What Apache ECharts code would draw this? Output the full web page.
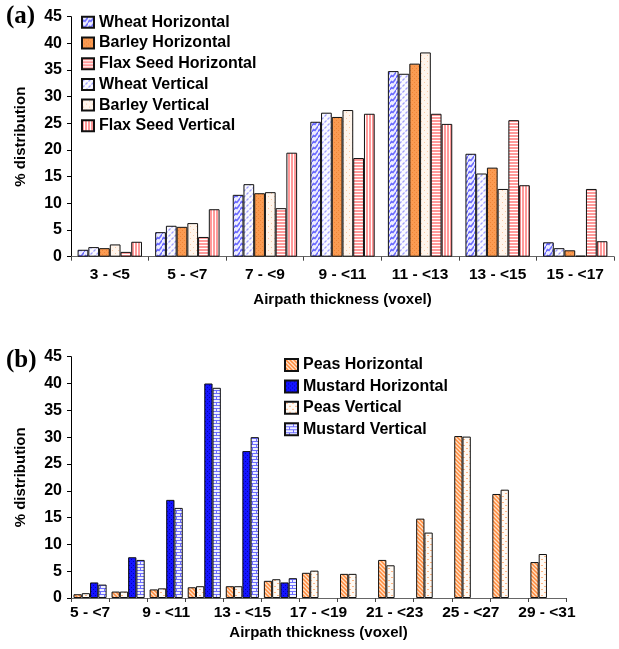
<!DOCTYPE html>
<html>
<head>
<meta charset="utf-8">
<script src="https://cdn.jsdelivr.net/npm/echarts@6/dist/echarts.min.js"></script>
<style>
  html, body { margin: 0; padding: 0; background: #fff; }
  #chart { width: 619px; height: 649px; }
</style>
</head>
<body>
<div id="chart"></div>
<script>
// Panel (a): cereal and flax seed airpath thickness distributions
const categoriesA = ['3 - <5', '5 - <7', '7 - <9', '9 - <11', '11 - <13', '13 - <15', '15 - <17'];
const wheatHorizontal = [1.3, 4.6, 11.6, 25.3, 34.8, 19.3, 2.7];
const wheatVertical   = [1.8, 5.8, 13.6, 27.0, 34.3, 15.6, 1.6];
const barleyHorizontal = [1.6, 5.6, 11.9, 26.2, 36.2, 16.7, 1.2];
const barleyVertical   = [2.3, 6.3, 12.1, 27.5, 38.3, 12.7, 0.2];
const flaxHorizontal = [0.9, 3.7, 9.1, 18.5, 26.8, 25.6, 12.7];
const flaxVertical   = [2.8, 8.9, 19.5, 26.8, 24.9, 13.4, 2.9];

// Panel (b): peas and mustard airpath thickness distributions
const categoriesB = ['5 - <7', '7 - <9', '9 - <11', '11 - <13', '13 - <15', '15 - <17', '17 - <19',
                     '19 - <21', '21 - <23', '23 - <25', '25 - <27', '27 - <29', '29 - <31'];
const peasHorizontal = [0.7, 1.2, 1.6, 2.0, 2.2, 3.2, 4.7, 4.5, 7.1, 14.8, 30.2, 19.4, 6.7];
const peasVertical   = [0.9, 1.2, 1.8, 2.2, 2.2, 3.5, 5.1, 4.5, 6.1, 12.2, 30.1, 20.2, 8.2];
const mustardHorizontal = [2.9, 7.6, 18.3, 40.0, 27.4, 2.9, null, null, null, null, null, null, null];
const mustardVertical   = [2.5, 7.1, 16.8, 39.2, 30.0, 3.7, null, null, null, null, null, null, null];

// Shared y scale (% distribution)
const yMin = 0, yMax = 45, yStep = 5;

const FONT = "'Liberation Sans', Arial, sans-serif";

// Small repeating fills for the hatched bars
function tile(w, h, bg, draw) {
  const c = document.createElement('canvas');
  c.width = w; c.height = h;
  const g = c.getContext('2d');
  g.fillStyle = bg;
  g.fillRect(0, 0, w, h);
  if (draw) draw(g);
  return { image: c, repeat: 'repeat' };
}
function dots(g, color, pts) {
  g.fillStyle = color;
  pts.forEach(p => g.fillRect(p[0], p[1], 1, 1));
}

const fills = {
  wheatH: tile(6, 6, '#eeeeff', g => {
    g.strokeStyle = '#6c6cff'; g.lineWidth = 1.6;
    g.beginPath();
    g.moveTo(-1, 7); g.lineTo(1.5, 3.5); g.lineTo(3, 4.5); g.lineTo(7, -1);
    g.moveTo(-4, 4); g.lineTo(0, -1);
    g.moveTo(5, 8); g.lineTo(8, 4);
    g.stroke();
  }),
  wheatV: tile(6, 6, '#fafaff', g => {
    g.strokeStyle = '#9d9dff'; g.lineWidth = 1.2;
    g.beginPath();
    g.moveTo(0.5, 2.5); g.lineTo(2.5, 0.5);
    g.moveTo(3.5, 5.5); g.lineTo(5.5, 3.5);
    g.stroke();
  }),
  barleyH: tile(4, 4, '#fb9b52', g => dots(g, '#ee8436', [[0, 0], [2, 2]])),
  barleyV: tile(6, 6, '#fff5ec', g => dots(g, '#fbc9a4', [[1, 1], [4, 4]])),
  flaxH: tile(3, 3, '#ffffff', g => { g.fillStyle = '#ff9a9a'; g.fillRect(0, 0, 3, 2); }),
  flaxV: tile(3, 3, '#ffffff', g => { g.fillStyle = '#ff9a9a'; g.fillRect(0, 0, 2, 3); }),
  peasH: tile(4, 4, '#ffe2c8', g => {
    g.strokeStyle = '#ff8a3c'; g.lineWidth = 1.5;
    g.beginPath();
    g.moveTo(-1, -1); g.lineTo(5, 5);
    g.moveTo(-3, 1); g.lineTo(1, 5);
    g.moveTo(3, -1); g.lineTo(5, 1);
    g.stroke();
  }),
  peasV: tile(6, 6, '#fffaf4', g => dots(g, '#ffb684', [[1, 1], [2, 1], [4, 4], [5, 4]])),
  mustardH: tile(4, 4, '#1414ff', g => dots(g, '#0000b8', [[1, 1], [3, 3]])),
  mustardV: tile(8, 6, '#eef0ff', g => {
    g.fillStyle = '#6e6eff';
    g.fillRect(0, 0, 8, 1);
    g.fillRect(0, 3, 8, 1);
    g.fillRect(0, 0, 1, 3);
    g.fillRect(4, 3, 1, 3);
  })
};

function barSeries(name, data, fill, axisIndex) {
  return {
    type: 'bar',
    name: name,
    data: data,
    xAxisIndex: axisIndex,
    yAxisIndex: axisIndex,
    barGap: '0%',
    barCategoryGap: axisIndex === 0 ? '17%' : '13%',
    itemStyle: { color: fill, borderColor: '#111', borderWidth: 1 },
    emphasis: { disabled: true },
    animation: false
  };
}

const labelStyle = { fontFamily: FONT, fontWeight: 'bold', color: '#000' };

function valueAxis(gridIndex) {
  return {
    type: 'value',
    gridIndex: gridIndex,
    min: yMin, max: yMax, interval: yStep,
    name: '% distribution',
    nameLocation: 'middle',
    nameGap: 43,
    nameRotate: 90,
    nameTextStyle: Object.assign({ fontSize: 15 }, labelStyle),
    axisLine: { show: true, lineStyle: { color: '#000', width: 1 } },
    axisTick: { show: true, inside: false, length: 4, lineStyle: { color: '#000' } },
    axisLabel: Object.assign({ fontSize: 16, margin: 9 }, labelStyle),
    splitLine: { show: false }
  };
}

function categoryAxis(gridIndex, cats, labelInterval, margin, nameGap) {
  return {
    type: 'category',
    gridIndex: gridIndex,
    data: cats,
    name: 'Airpath thickness (voxel)',
    nameLocation: 'middle',
    nameGap: nameGap,
    nameTextStyle: Object.assign({ fontSize: 15 }, labelStyle),
    axisLine: { show: true, lineStyle: { color: '#666', width: 1.2 } },
    axisTick: { show: true, length: 4, interval: 0, lineStyle: { color: '#444' } },
    axisLabel: Object.assign({ fontSize: 15.5, margin: margin, interval: labelInterval }, labelStyle),
    splitLine: { show: false }
  };
}

const chart = echarts.init(document.getElementById('chart'), null, { renderer: 'canvas' });

chart.setOption({
  backgroundColor: '#fff',
  animation: false,
  title: [
    { text: '(a)', left: 6, top: 4, padding: 0,
      textStyle: { fontFamily: "'Liberation Serif', 'Times New Roman', serif", fontWeight: 'bold', fontSize: 25, color: '#000' } },
    { text: '(b)', left: 6, top: 348, padding: 0,
      textStyle: { fontFamily: "'Liberation Serif', 'Times New Roman', serif", fontWeight: 'bold', fontSize: 25, color: '#000' } }
  ],
  grid: [
    { left: 71, top: 16.7, width: 543, height: 240, outerBoundsMode: 'none' },
    { left: 71, top: 356.7, width: 495, height: 241.3, outerBoundsMode: 'none' }
  ],
  legend: [
    {
      orient: 'vertical', left: 81, top: 14.3, padding: 0,
      icon: 'rect',
      itemWidth: 12, itemHeight: 11, itemGap: 4.7,
      selectedMode: false,
      textStyle: Object.assign({ fontSize: 16, lineHeight: 16 }, labelStyle),
      data: ['Wheat Horizontal', 'Barley Horizontal', 'Flax Seed Horizontal',
             'Wheat Vertical', 'Barley Vertical', 'Flax Seed Vertical']
    },
    {
      orient: 'vertical', left: 284, top: 357, padding: 0,
      icon: 'rect',
      itemWidth: 13, itemHeight: 12, itemGap: 5.4,
      selectedMode: false,
      textStyle: Object.assign({ fontSize: 16, lineHeight: 16 }, labelStyle),
      data: ['Peas Horizontal', 'Mustard Horizontal', 'Peas Vertical', 'Mustard Vertical']
    }
  ],
  xAxis: [
    categoryAxis(0, categoriesA, 0, 10, 36),
    categoryAxis(1, categoriesB, 1, 7, 27)
  ],
  yAxis: [valueAxis(0), valueAxis(1)],
  series: [
    barSeries('Wheat Horizontal', wheatHorizontal, fills.wheatH, 0),
    barSeries('Wheat Vertical', wheatVertical, fills.wheatV, 0),
    barSeries('Barley Horizontal', barleyHorizontal, fills.barleyH, 0),
    barSeries('Barley Vertical', barleyVertical, fills.barleyV, 0),
    barSeries('Flax Seed Horizontal', flaxHorizontal, fills.flaxH, 0),
    barSeries('Flax Seed Vertical', flaxVertical, fills.flaxV, 0),
    barSeries('Peas Horizontal', peasHorizontal, fills.peasH, 1),
    barSeries('Peas Vertical', peasVertical, fills.peasV, 1),
    barSeries('Mustard Horizontal', mustardHorizontal, fills.mustardH, 1),
    barSeries('Mustard Vertical', mustardVertical, fills.mustardV, 1)
  ]
});
</script>
</body>
</html>
